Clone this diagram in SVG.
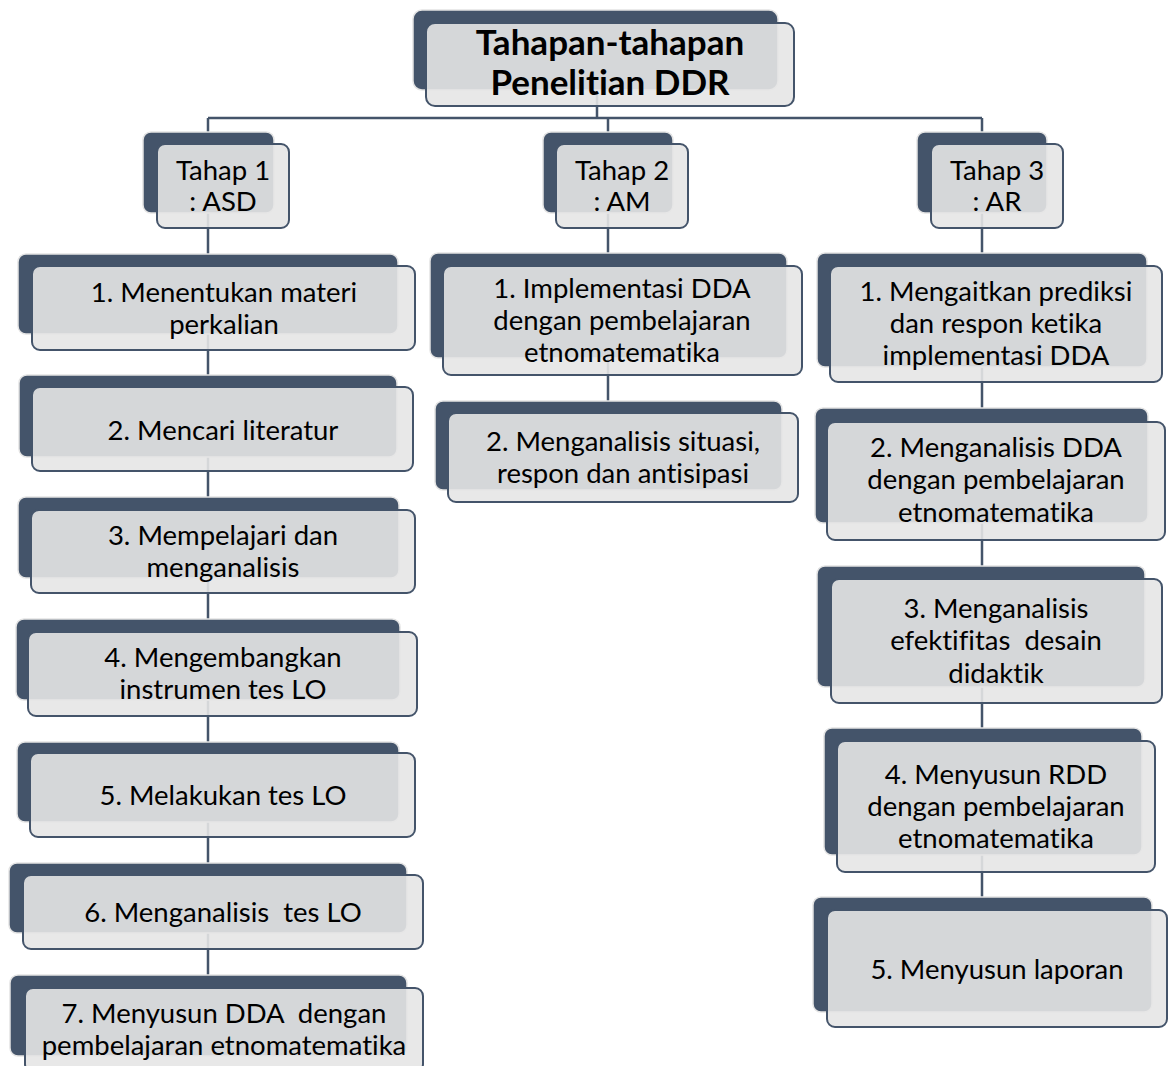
<svg xmlns="http://www.w3.org/2000/svg" width="1170" height="1066" viewBox="0 0 1170 1066">
<style>
.bk{fill:#44546a;stroke:#e4e4e4;stroke-width:1.5}
.fr{fill:#e6e6e6;fill-opacity:0.9;stroke:#44546a;stroke-width:2}
.t{font-family:Lato,"Open Sans",sans-serif;font-size:27.5px;fill:#000;text-anchor:middle;white-space:pre;font-variant-ligatures:none}
.tb{font-family:Lato,"Open Sans",sans-serif;font-size:35px;font-weight:bold;fill:#000;text-anchor:middle;font-variant-ligatures:none}
.c{stroke:#44546a;stroke-width:2.5;fill:none}
</style>
<rect width="1170" height="1066" fill="#fff"/>
<g id="connectors">
<path class="c" d="M597 95V118M208 118H982M208 118V988M608 118V414M982 118V910"/>
</g>
<g id="root">
<rect class="bk" x="413" y="10" width="365" height="80" rx="9"/>
<rect class="fr" x="426" y="23" width="368" height="83" rx="9"/>
<text class="tb" x="610" y="55">Tahapan-tahapan</text>
<text class="tb" x="610" y="95">Penelitian DDR</text>
</g>
<g id="tahap1">
<rect class="bk" x="143" y="132" width="131" height="81" rx="8"/>
<rect class="fr" x="157" y="144" width="132" height="84" rx="8"/>
<text class="t" x="223" y="180">Tahap 1</text>
<text class="t" x="223" y="211">: ASD</text>
</g>
<g id="tahap2">
<rect class="bk" x="543" y="132" width="130" height="81" rx="8"/>
<rect class="fr" x="556" y="144" width="132" height="84" rx="8"/>
<text class="t" x="622" y="180">Tahap 2</text>
<text class="t" x="622" y="211">: AM</text>
</g>
<g id="tahap3">
<rect class="bk" x="917" y="132" width="130" height="81" rx="8"/>
<rect class="fr" x="931" y="144" width="132" height="84" rx="8"/>
<text class="t" x="997" y="180">Tahap 3</text>
<text class="t" x="997" y="211">: AR</text>
</g>
<g id="l1">
<rect class="bk" x="18" y="254" width="380" height="80" rx="8"/>
<rect class="fr" x="32" y="266" width="383" height="84" rx="8"/>
<text class="t" x="224" y="302">1. Menentukan materi</text>
<text class="t" x="224" y="334">perkalian</text>
</g>
<g id="l2">
<rect class="bk" x="19" y="375" width="378" height="82" rx="8"/>
<rect class="fr" x="32" y="387" width="381" height="84" rx="8"/>
<text class="t" x="223" y="440">2. Mencari literatur</text>
</g>
<g id="l3">
<rect class="bk" x="18" y="497" width="381" height="81" rx="8"/>
<rect class="fr" x="31" y="510" width="384" height="83" rx="8"/>
<text class="t" x="223" y="545">3. Mempelajari dan</text>
<text class="t" x="223" y="577">menganalisis</text>
</g>
<g id="l4">
<rect class="bk" x="16" y="619" width="384" height="81" rx="8"/>
<rect class="fr" x="28" y="632" width="389" height="84" rx="8"/>
<text class="t" x="223" y="667">4. Mengembangkan</text>
<text class="t" x="223" y="699">instrumen tes LO</text>
</g>
<g id="l5">
<rect class="bk" x="17" y="742" width="382" height="80" rx="8"/>
<rect class="fr" x="30" y="753" width="385" height="84" rx="8"/>
<text class="t" x="223" y="805">5. Melakukan tes LO</text>
</g>
<g id="l6">
<rect class="bk" x="9" y="863" width="398" height="70" rx="8"/>
<rect class="fr" x="23" y="875" width="400" height="74" rx="8"/>
<text class="t" x="223" y="922">6. Menganalisis  tes LO</text>
</g>
<g id="l7">
<rect class="bk" x="10" y="975" width="397" height="81" rx="8"/>
<rect class="fr" x="25" y="988" width="398" height="84" rx="8"/>
<text class="t" x="224" y="1023">7. Menyusun DDA  dengan</text>
<text class="t" x="224" y="1055">pembelajaran etnomatematika</text>
</g>
<g id="m1">
<rect class="bk" x="430" y="253" width="357" height="105" rx="8"/>
<rect class="fr" x="443" y="266" width="359" height="109" rx="8"/>
<text class="t" x="622" y="298">1. Implementasi DDA</text>
<text class="t" x="622" y="330">dengan pembelajaran</text>
<text class="t" x="622" y="362">etnomatematika</text>
</g>
<g id="m2">
<rect class="bk" x="435" y="401" width="347" height="89" rx="8"/>
<rect class="fr" x="448" y="413" width="350" height="89" rx="8"/>
<text class="t" x="623" y="451">2. Menganalisis situasi,</text>
<text class="t" x="623" y="483">respon dan antisipasi</text>
</g>
<g id="r1">
<rect class="bk" x="817" y="253" width="330" height="114" rx="8"/>
<rect class="fr" x="830" y="266" width="332" height="116" rx="8"/>
<text class="t" x="996" y="301">1. Mengaitkan prediksi</text>
<text class="t" x="996" y="333">dan respon ketika</text>
<text class="t" x="996" y="365">implementasi DDA</text>
</g>
<g id="r2">
<rect class="bk" x="815" y="408" width="333" height="115" rx="8"/>
<rect class="fr" x="827" y="422" width="338" height="118" rx="8"/>
<text class="t" x="996" y="457">2. Menganalisis DDA</text>
<text class="t" x="996" y="489">dengan pembelajaran</text>
<text class="t" x="996" y="522">etnomatematika</text>
</g>
<g id="r3">
<rect class="bk" x="817" y="566" width="328" height="121" rx="8"/>
<rect class="fr" x="831" y="579" width="331" height="124" rx="8"/>
<text class="t" x="996" y="618">3. Menganalisis</text>
<text class="t" x="996" y="650">efektifitas  desain</text>
<text class="t" x="996" y="683">didaktik</text>
</g>
<g id="r4">
<rect class="bk" x="824" y="728" width="318" height="127" rx="8"/>
<rect class="fr" x="837" y="741" width="318" height="131" rx="8"/>
<text class="t" x="996" y="784">4. Menyusun RDD</text>
<text class="t" x="996" y="816">dengan pembelajaran</text>
<text class="t" x="996" y="848">etnomatematika</text>
</g>
<g id="r5">
<rect class="bk" x="813" y="897" width="339" height="115" rx="8"/>
<rect class="fr" x="827" y="910" width="340" height="117" rx="8"/>
<text class="t" x="997" y="979">5. Menyusun laporan</text>
</g>
</svg>
